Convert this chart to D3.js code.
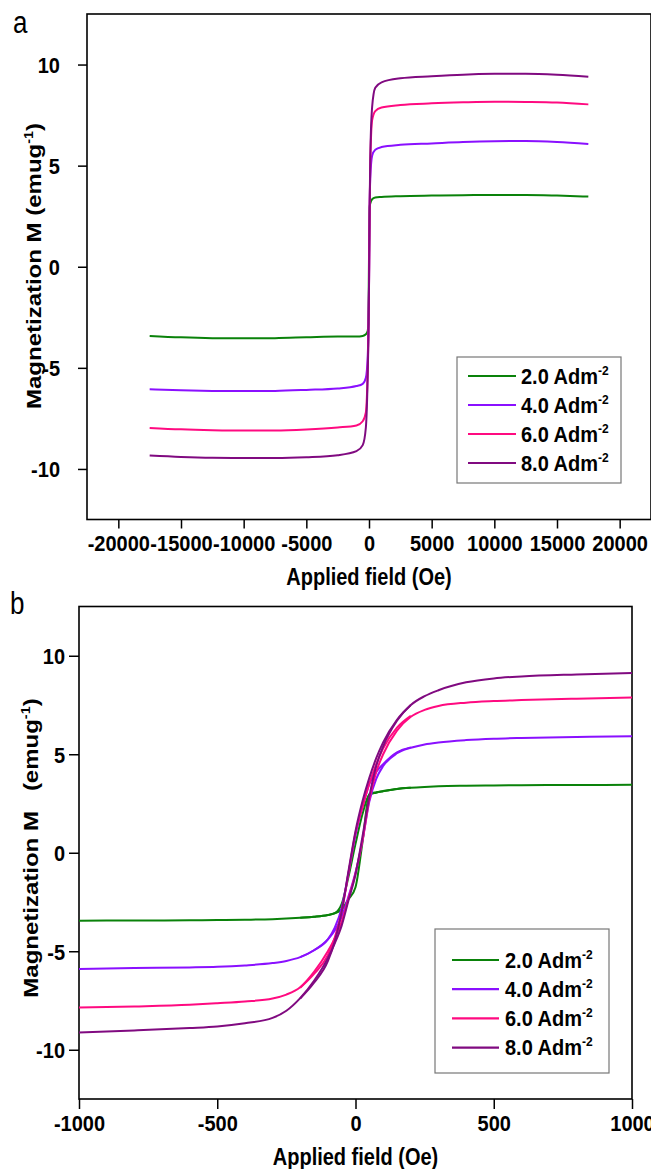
<!DOCTYPE html>
<html><head><meta charset="utf-8">
<script src="https://cdn.jsdelivr.net/npm/d3@7"></script>
<style>
body{margin:0;background:#fff}
svg{display:block}
text{font-family:"Liberation Sans",Arial,Helvetica,sans-serif;fill:#000}
</style>
</head><body>
<svg id="chart" width="651" height="1169"></svg>
<script>
// ---------- data ----------
const seriesLabels = ["2.0 Adm", "4.0 Adm", "6.0 Adm", "8.0 Adm"];
const seriesColors = ["#0a820a", "#8a10ff", "#ff0a80", "#800a80"];

// Panel a: full field sweep (Oe)
const fieldA = [-17500,-15000,-12500,-10000,-7500,-5000,-2500,-1000,-500,-250,-100,-50,0,50,100,250,500,1000,2500,5000,7500,10000,12500,15000,17500];
const mA_2 = [-3.42,-3.49,-3.53,-3.54,-3.53,-3.49,-3.45,-3.45,-3.42,-3.34,-3.16,-2.85,0.45,2.95,3.12,3.34,3.42,3.45,3.49,3.52,3.54,3.55,3.55,3.52,3.47];
const mA_4 = [-6.06,-6.11,-6.14,-6.15,-6.14,-6.09,-6.02,-5.90,-5.79,-5.49,-4.40,-3.20,-0.90,2.90,4.35,5.49,5.79,5.92,6.03,6.10,6.17,6.21,6.22,6.17,6.07];
const mA_6 = [-7.97,-8.04,-8.08,-8.10,-8.10,-8.05,-7.95,-7.85,-7.64,-7.20,-5.00,-3.40,-1.00,2.70,5.00,7.25,7.70,7.88,8.00,8.08,8.13,8.16,8.15,8.12,8.03];
const mA_8 = [-9.34,-9.41,-9.45,-9.46,-9.46,-9.42,-9.32,-9.12,-8.82,-7.95,-5.30,-3.70,-1.10,2.90,5.35,7.90,8.85,9.12,9.32,9.42,9.50,9.54,9.55,9.50,9.40];

// Panel b: low-field loop, increasing-field branch (Oe)
const fieldB = [-1000,-800,-600,-500,-400,-300,-250,-200,-150,-100,-75,-50,-25,0,25,50,75,100,150,200,250,300,400,500,600,800,1000];
const mBup_2 = [-3.45,-3.44,-3.43,-3.42,-3.40,-3.37,-3.34,-3.30,-3.25,-3.16,-3.07,-2.88,-2.35,-1.75,0.50,2.98,3.07,3.13,3.24,3.30,3.34,3.37,3.40,3.42,3.43,3.44,3.45];
const mBup_4 = [-5.90,-5.85,-5.82,-5.79,-5.72,-5.60,-5.49,-5.30,-4.95,-4.40,-3.95,-3.25,-2.20,-1.00,0.60,2.60,3.75,4.40,5.05,5.33,5.50,5.60,5.72,5.79,5.83,5.88,5.92];
const mBup_6 = [-7.85,-7.80,-7.72,-7.64,-7.55,-7.40,-7.20,-6.83,-6.05,-5.00,-4.35,-3.50,-2.30,-1.05,0.60,2.70,4.10,5.00,6.20,6.90,7.25,7.45,7.62,7.70,7.75,7.82,7.88];
const mBup_8 = [-9.12,-9.02,-8.90,-8.82,-8.65,-8.38,-8.02,-7.38,-6.50,-5.35,-4.60,-3.70,-2.40,-1.10,0.80,2.85,4.40,5.40,6.70,7.50,7.95,8.25,8.65,8.85,8.95,9.05,9.12];

// Panel b: decreasing-field branch where it separates from the other one
const fieldBdown = [-200,-150,-100,-75,-50,-25,0,25,50,75,100,150,200];
const mBdn_2 = [-3.30,-3.25,-3.16,-3.07,-2.60,-1.20,0.45,1.95,2.95,3.05,3.12,3.24,3.30];
const mBdn_4 = [-5.30,-4.95,-4.40,-3.80,-2.80,-1.00,0.90,2.30,3.50,4.10,4.50,5.10,5.35];
const mBdn_6 = [-6.85,-6.15,-5.20,-4.30,-3.00,-1.00,1.00,2.30,3.50,4.50,5.30,6.35,6.95];
const mBdn_8 = [-7.40,-6.60,-5.50,-4.50,-3.00,-0.90,1.10,2.60,3.80,4.80,5.60,6.75,7.50];

const xTicksA = [-20000,-15000,-10000,-5000,0,5000,10000,15000,20000];
const xTicksB = [-1000,-500,0,500,1000];
const yTicks = [-10,-5,0,5,10];

// ---------- drawing ----------
const S_TITLE = 1.2;   // vertical stretch seen in the original figure's titles
const S_TICK = 1.1;
const svg = d3.select("#chart");

function stretchedText(g, x, y, str, size, weight, anchor, s) {
  return g.append("text")
    .attr("transform", `translate(${x},${y}) scale(1,${s})`)
    .attr("text-anchor", anchor || "start")
    .style("font-size", size + "px")
    .style("font-weight", weight || "bold")
    .text(str);
}

function drawPanel(p) {
  const g = svg.append("g");
  const x = d3.scaleLinear().domain(p.xDomain).range([p.left, p.right]);
  const y = d3.scaleLinear().domain([-12.5, 12.5]).range([p.bottom, p.top]);

  // axes
  const ax = g.append("g").attr("transform", `translate(0,${p.bottom})`)
    .call(d3.axisBottom(x).tickValues(p.xTicks).tickSize(p.tick));
  ax.select(".domain").remove();
  ax.selectAll("line").attr("stroke", "#000").attr("stroke-width", 1.5);
  ax.selectAll("text").attr("y", 0).attr("dy", null)
    .attr("transform", `translate(0,${p.xLabelBase - p.bottom}) scale(1,${S_TICK})`)
    .style("font-size", "20px").style("font-weight", "bold").attr("fill", "#000")
    .text(d => String(d));

  const ay = g.append("g").attr("transform", `translate(${p.left},0)`)
    .call(d3.axisLeft(y).tickValues(yTicks).tickSize(p.tick).tickPadding(p.yPad));
  ay.select(".domain").remove();
  ay.selectAll("line").attr("stroke", "#000").attr("stroke-width", 1.5);
  ay.selectAll("text").attr("dy", null)
    .attr("transform", `translate(0,7.8) scale(1,${S_TICK})`)
    .style("font-size", "20px").style("font-weight", "bold").attr("fill", "#000")
    .text(d => String(d));

  // frame
  g.append("rect").attr("x", p.left).attr("y", p.top)
    .attr("width", p.right - p.left).attr("height", p.bottom - p.top)
    .attr("fill", "none").attr("stroke", "#000").attr("stroke-width", 1.6);

  // curves
  const line = d3.line().x(d => x(d[0])).y(d => y(d[1])).curve(d3.curveMonotoneX);
  p.curves.forEach((c, i) => {
    c.forEach(arr => {
      g.append("path").datum(arr).attr("d", line)
        .attr("fill", "none").attr("stroke", seriesColors[i])
        .attr("stroke-width", 2).attr("stroke-linejoin", "round");
    });
  });

  // axis titles
  stretchedText(g, (p.left + p.right) / 2 + p.xTitleDx, p.xTitleBase, "Applied field (Oe)", 20, "bold", "middle", S_TITLE);
  const yt = g.append("text")
    .attr("transform", `translate(${p.yTitleX},${p.yTitleY}) rotate(-90) scale(${S_TITLE},1)`)
    .attr("text-anchor", "middle")
    .style("font-size", "20px").style("font-weight", "bold");
  yt.append("tspan").text("Magnetization M" + p.yGap + "(emug");
  yt.append("tspan").attr("dy", -8).style("font-size", "12px").text("-1");
  yt.append("tspan").attr("dy", 8).text(")");

  // panel letter
  stretchedText(g, p.letterX, p.letterY, p.letter, 26, "normal", "start", S_TITLE);

  // legend
  const L = p.legend;
  g.append("rect").attr("x", L.x).attr("y", L.y).attr("width", L.w).attr("height", L.h)
    .attr("fill", "#fff").attr("stroke", "#777").attr("stroke-width", 1.2);
  seriesLabels.forEach((lab, i) => {
    const ly = L.firstY + i * L.step;
    g.append("line").attr("x1", L.lineX1).attr("x2", L.lineX2).attr("y1", ly).attr("y2", ly)
      .attr("stroke", seriesColors[i]).attr("stroke-width", 2.2);
    const t = g.append("text")
      .attr("transform", `translate(${L.textX},${ly + 7.5}) scale(1,${S_TICK})`)
      .style("font-size", "20px").style("font-weight", "bold");
    t.append("tspan").text(lab);
    t.append("tspan").attr("dy", -8).style("font-size", "12px").text("-2");
  });
}

const zipA = m => fieldA.map((h, i) => [h, m[i]]);
const zipB = m => fieldB.map((h, i) => [h, m[i]]);
const zipBd = m => fieldBdown.map((h, i) => [h, m[i]]);

drawPanel({
  letter: "a", letterX: 13, letterY: 33,
  xDomain: [-22500, 22500], left: 87, right: 651, top: 14, bottom: 519.5,
  xTicks: xTicksA, tick: 9, yPad: 18, xLabelBase: 551, xTitleBase: 585, xTitleDx: 0,
  yTitleX: 41, yTitleY: 266, yGap: " ",
  curves: [[zipA(mA_2)], [zipA(mA_4)], [zipA(mA_6)], [zipA(mA_8)]],
  legend: { x: 457, y: 357, w: 164, h: 126, lineX1: 468, lineX2: 516, textX: 521, firstY: 376, step: 29 }
});

drawPanel({
  letter: "b", letterX: 10, letterY: 614,
  xDomain: [-1000, 1000], left: 79, right: 632, top: 606.5, bottom: 1099,
  xTicks: xTicksB, tick: 10, yPad: 4, xLabelBase: 1131, xTitleBase: 1165, xTitleDx: 0,
  yTitleX: 38, yTitleY: 848, yGap: "\u00A0\u00A0 ",
  curves: [
    [zipB(mBup_2), zipBd(mBdn_2)],
    [zipB(mBup_4), zipBd(mBdn_4)],
    [zipB(mBup_6), zipBd(mBdn_6)],
    [zipB(mBup_8), zipBd(mBdn_8)]
  ],
  legend: { x: 435, y: 929, w: 174, h: 144, lineX1: 452, lineX2: 499, textX: 505, firstY: 960, step: 29.2 }
});
</script>
</body></html>
